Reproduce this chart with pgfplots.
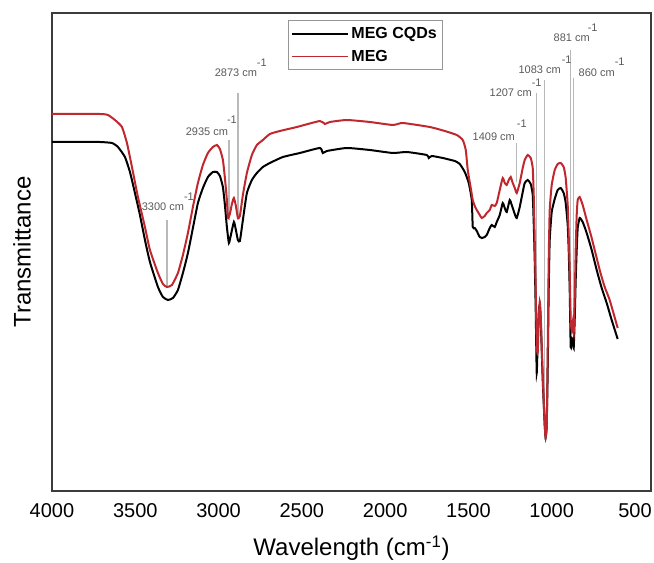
\documentclass[border=0pt]{standalone}
\usepackage{pgfplots}
\pgfplotsset{compat=1.18}
\usepackage{fontspec}
\setmainfont{Liberation Sans}
\definecolor{megred}{RGB}{192,40,48}
\definecolor{annot}{RGB}{90,90,90}
\definecolor{annline}{RGB}{185,185,185}
\definecolor{boxc}{RGB}{60,60,60}
\begin{document}
\begin{tikzpicture}
\begin{axis}[
  scale only axis, width=449.25pt, height=358.5pt,
  x dir=reverse, xmin=404, xmax=4000, ymin=0, ymax=478,
  xtick={500,1000,...,4000}, ytick=\empty,
  major tick length=0pt,
  /pgf/number format/assume math mode=true,
  /pgf/number format/set thousands separator={},
  xticklabel style={font=\fontsize{15}{18}\selectfont, yshift=-6pt},
  axis line style={draw=boxc, line width=1.5pt},
  xlabel={Wavelength (cm\textsuperscript{-1})},
  ylabel={Transmittance},
  x label style={at={(axis description cs:0.5,0)}, anchor=center, yshift=-42.75pt, font=\fontsize{18}{21}\selectfont},
  y label style={at={(axis description cs:-0.05,0.5)}, anchor=center, font=\fontsize{18}{21}\selectfont},
  clip=false,
  legend style={at={(rel axis cs:0.394,0.985)}, anchor=north west, draw={rgb,255:red,150;green,150;blue,150}, line width=0.8pt, font=\bfseries\fontsize{12}{14}\selectfont, inner xsep=2pt, inner ysep=3pt, row sep=3pt},
  legend cell align=left,
  legend image code/.code={\draw[#1, line width=1.2pt] (0pt,0pt) -- (42pt,0pt);},
]
% annotation lines
\draw[annline, line width=1pt] (axis cs:3310,271) -- (axis cs:3310,204);
\draw[annline, line width=1pt] (axis cs:2938,351) -- (axis cs:2938,271);
\draw[annline, line width=1pt] (axis cs:2884,398) -- (axis cs:2884,271);
\draw[annline, line width=1pt] (axis cs:1210,348) -- (axis cs:1210,309);
\draw[annline, line width=1pt] (axis cs:1090,398) -- (axis cs:1090,121);
\draw[annline, line width=1pt] (axis cs:1042,411) -- (axis cs:1042,51);
\draw[annline, line width=1pt] (axis cs:886,441) -- (axis cs:886,151);
\draw[annline, line width=1pt] (axis cs:868,413) -- (axis cs:868,151);

\addplot[black, line width=1.5pt, smooth, tension=0.3] coordinates {
(4000,349)(3832,349)(3712,349)(3640,348)(3604,344)(3562,334)(3532,319)(3502,298)(3472,276)(3442,251)(3412,229)(3364,204)(3334,194)(3304,191)(3274,193)(3244,201)(3214,218)(3184,238)(3154,263)(3124,288)(3094,303)(3064,314)(3034,319)(3010,319)(2992,315)(2974,304)(2962,286)(2950,264)(2938,248)(2926,256)(2908,269)(2896,261)(2884,251)(2872,250)(2854,271)(2830,298)(2800,311)(2770,318)(2734,324)(2692,328)(2614,334)(2512,338)(2392,343)(2374,338)(2350,340)(2230,343)(2092,341)(1954,338)(1870,339)(1750,336)(1738,333)(1720,335)(1654,333)(1582,330)(1552,327)(1522,319)(1498,308)(1480,291)(1474,264)(1462,263)(1450,260)(1432,254)(1420,253)(1402,254)(1390,256)(1372,263)(1360,266)(1342,264)(1330,269)(1312,276)(1294,288)(1282,283)(1270,279)(1252,291)(1240,286)(1222,277)(1210,273)(1192,284)(1174,299)(1162,308)(1144,311)(1126,307)(1114,296)(1108,268)(1102,231)(1096,181)(1090,118)(1084,151)(1078,178)(1072,186)(1066,171)(1054,111)(1042,66)(1036,54)(1030,66)(1024,121)(1018,201)(1012,251)(1000,279)(982,292)(964,301)(946,303)(928,298)(916,288)(904,266)(898,241)(892,201)(886,144)(880,153)(874,151)(868,143)(862,171)(856,211)(850,241)(844,263)(832,273)(814,269)(790,258)(760,241)(730,221)(700,203)(670,188)(640,171)(604,152)
};
\addlegendentry{MEG CQDs}
\addplot[megred, line width=1.5pt, smooth, tension=0.3] coordinates {
(4000,377)(3712,377)(3664,376)(3622,371)(3580,364)(3550,348)(3520,324)(3484,294)(3442,264)(3412,241)(3364,218)(3334,207)(3310,204)(3280,206)(3244,218)(3214,236)(3184,258)(3154,284)(3124,308)(3094,326)(3064,338)(3034,344)(3010,346)(2992,342)(2974,331)(2962,313)(2950,291)(2944,273)(2932,277)(2920,287)(2908,293)(2896,285)(2884,273)(2872,275)(2854,296)(2830,318)(2800,336)(2770,346)(2734,351)(2692,357)(2632,360)(2530,364)(2392,370)(2362,367)(2332,369)(2230,371)(2092,369)(1954,366)(1894,368)(1732,364)(1642,360)(1570,356)(1534,351)(1516,341)(1504,321)(1486,303)(1474,291)(1462,285)(1450,281)(1432,276)(1420,273)(1402,275)(1390,278)(1372,281)(1360,286)(1342,285)(1330,288)(1312,301)(1294,313)(1282,308)(1270,306)(1258,311)(1246,314)(1234,308)(1222,303)(1210,298)(1192,308)(1174,323)(1162,331)(1144,336)(1126,333)(1114,323)(1108,296)(1102,251)(1096,201)(1090,146)(1084,138)(1078,171)(1072,189)(1066,176)(1054,116)(1042,66)(1036,54)(1030,66)(1024,141)(1018,231)(1012,281)(1000,306)(982,321)(964,327)(946,328)(928,324)(916,313)(904,286)(898,256)(892,221)(886,171)(880,161)(874,169)(868,158)(862,191)(856,241)(850,276)(844,291)(832,294)(814,286)(790,271)(760,253)(712,221)(682,204)(652,191)(604,163)
};
\addlegendentry{MEG}

% annotation labels
\tikzset{ann/.style={text=annot, font=\fontsize{8.25}{10}\selectfont, inner sep=0pt}}
\node[ann] at (axis cs:3334,284) {3300 cm};
\node[ann] at (axis cs:3178,294) {-1};
\node[ann] at (axis cs:3070,359) {2935 cm};
\node[ann] at (axis cs:2920,371) {-1};
\node[ann] at (axis cs:2896,418) {2873 cm};
\node[ann] at (axis cs:2740,428) {-1};
\node[ann] at (axis cs:1348,354) {1409 cm};
\node[ann] at (axis cs:1180,367) {-1};
\node[ann] at (axis cs:1246,398) {1207 cm};
\node[ann] at (axis cs:1090,408) {-1};
\node[ann] at (axis cs:1072,421) {1083 cm};
\node[ann] at (axis cs:910,431) {-1};
\node[ann] at (axis cs:880,453) {881 cm};
\node[ann] at (axis cs:754,463) {-1};
\node[ann] at (axis cs:730,418) {860 cm};
\node[ann] at (axis cs:592,429) {-1};

\coordinate (bl) at (rel axis cs:0,0);
\coordinate (tr) at (rel axis cs:1,1);
\end{axis}
\pgfresetboundingbox
\path ([shift={(-39pt,-54pt)}]bl) rectangle ([shift={(2.25pt,9.75pt)}]tr);
\end{tikzpicture}
\end{document}
